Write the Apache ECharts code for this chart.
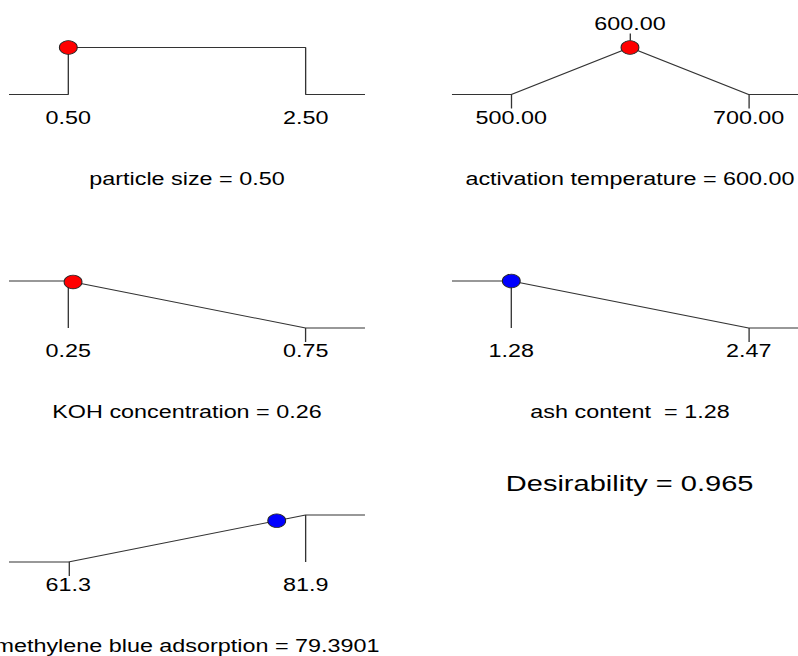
<!DOCTYPE html>
<html>
<head>
<meta charset="utf-8">
<script src="https://cdn.jsdelivr.net/npm/echarts@6/dist/echarts.min.js"></script>
<style>
  html, body { margin: 0; padding: 0; background: #fff; overflow: hidden; }
  #wrap { width: 798px; height: 656px; overflow: hidden; }
  /* the ramp sheet is drawn narrow and widened horizontally */
  #chart { width: 604.5px; height: 656px; transform: scaleX(1.32); transform-origin: 0 0; }
</style>
</head>
<body>
<div id="wrap"><div id="chart"></div></div>
<script>
// Optimisation ramps: one panel per factor / response
const panelNames = ['particle size', 'activation temperature', 'KOH concentration', 'ash content ', 'methylene blue adsorption'];
const panelKinds = ['factor', 'factor', 'factor', 'response', 'response'];
const goals = ['range', 'target', 'minimize', 'minimize', 'maximize'];
const lowLimits = [0.50, 500.00, 0.25, 1.28, 61.3];
const highLimits = [2.50, 700.00, 0.75, 2.47, 81.9];
const targetValues = [null, 600.00, null, null, null];
const currentValues = [0.50, 600.00, 0.26, 1.28, 79.3901];
const limitDecimals = [2, 2, 2, 2, 1];
const valueDecimals = [2, 2, 2, 2, 4];
const overallDesirability = 0.965;

// panel placement (col, row)
const panelCells = [[0, 0], [1, 0], [0, 1], [1, 1], [0, 2]];
const colLeft = [6.8, 342.4];
const rowTop = [47.5, 281, 515];
const gridW = 269.7, gridH = 47;
const FONT = "'Liberation Sans', Arial, Helvetica, sans-serif";
const LABEL_SIZE = 17.7;
const dotColors = { factor: '#ff0000', response: '#0000ff' };

function desirability(i, x) {
  const lo = lowLimits[i], hi = highLimits[i];
  switch (goals[i]) {
    case 'range': return (x >= lo && x <= hi) ? 1 : 0;
    case 'target': {
      const t = targetValues[i];
      if (x <= lo || x >= hi) return 0;
      return x <= t ? (x - lo) / (t - lo) : (hi - x) / (hi - t);
    }
    case 'minimize':
      if (x <= lo) return 1;
      if (x >= hi) return 0;
      return (hi - x) / (hi - lo);
    case 'maximize':
      if (x <= lo) return 0;
      if (x >= hi) return 1;
      return (x - lo) / (hi - lo);
  }
}

function rampPoints(i, xmin, xmax) {
  const lo = lowLimits[i], hi = highLimits[i];
  switch (goals[i]) {
    case 'range': return [[xmin, 0], [lo, 0], [lo, 1], [hi, 1], [hi, 0], [xmax, 0]];
    case 'target': return [[xmin, 0], [lo, 0], [targetValues[i], 1], [hi, 0], [xmax, 0]];
    case 'minimize': return [[xmin, 1], [lo, 1], [hi, 0], [xmax, 0]];
    case 'maximize': return [[xmin, 0], [lo, 0], [hi, 1], [xmax, 1]];
  }
}

// limits that sit at full desirability get a drop line to the base
function dropLines(i) {
  const lo = lowLimits[i], hi = highLimits[i];
  if (goals[i] === 'minimize') return [[lo, 1], [lo, 0]];
  if (goals[i] === 'maximize') return [[hi, 1], [hi, 0]];
  return null;
}

// limits that sit at zero desirability get a tick below the base
function baseTicks(i) {
  const lo = lowLimits[i], hi = highLimits[i];
  if (goals[i] === 'target') return [lo, hi];
  if (goals[i] === 'minimize') return [hi];
  if (goals[i] === 'maximize') return [lo];
  return [];
}

const grids = [], xAxes = [], yAxes = [], series = [];
panelNames.forEach((name, i) => {
  const lo = lowLimits[i], hi = highLimits[i];
  const pad = (hi - lo) * 0.25;
  const xmin = lo - pad, xmax = hi + pad;
  const [c, r] = panelCells[i];
  grids.push({ left: colLeft[c], top: rowTop[r], width: gridW, height: gridH, containLabel: false, outerBoundsMode: 'none' });
  const ticks = baseTicks(i);
  const titleText = name + ' = ' + currentValues[i].toFixed(valueDecimals[i]);
  xAxes.push({
    gridIndex: i, type: 'value', min: xmin, max: xmax, position: 'bottom',
    axisLine: { show: false }, splitLine: { show: false },
    axisTick: { show: ticks.length > 0, customValues: ticks, length: 14, lineStyle: { color: '#333', width: 1 } },
    axisLabel: {
      customValues: [lo, hi], margin: 14, fontSize: LABEL_SIZE, fontFamily: FONT, color: '#000',
      formatter: v => Number(v).toFixed(limitDecimals[i])
    },
    name: titleText, nameLocation: 'middle', nameGap: 75,
    nameTextStyle: { fontSize: LABEL_SIZE, fontFamily: FONT, color: '#000' }
  });
  yAxes.push({ gridIndex: i, type: 'value', min: 0, max: 1, show: false });
  const yIdx = yAxes.length - 1;
  const xIdx = xAxes.length - 1;

  series.push({
    type: 'line', xAxisIndex: xIdx, yAxisIndex: yIdx, data: rampPoints(i, xmin, xmax),
    symbol: 'none', silent: true, clip: false, animation: false,
    lineStyle: { color: '#333', width: 1 }
  });
  const drop = dropLines(i);
  if (drop) {
    series.push({
      type: 'line', xAxisIndex: xIdx, yAxisIndex: yIdx, data: drop,
      symbol: 'none', silent: true, clip: false, animation: false,
      lineStyle: { color: '#333', width: 1 }
    });
  }
  if (goals[i] === 'target') {
    // target marker above the peak
    xAxes.push({
      gridIndex: i, type: 'value', min: xmin, max: xmax, position: 'top', offset: 7,
      axisLine: { show: false }, splitLine: { show: false },
      axisTick: { show: true, customValues: [targetValues[i]], length: 7, lineStyle: { color: '#333', width: 1 } },
      axisLabel: {
        customValues: [targetValues[i]], margin: 8, fontSize: LABEL_SIZE, fontFamily: FONT, color: '#000',
        formatter: v => Number(v).toFixed(limitDecimals[i])
      }
    });
  }
  series.push({
    type: 'scatter', xAxisIndex: xIdx, yAxisIndex: yIdx, z: 5, animation: false,
    data: [[currentValues[i], desirability(i, currentValues[i])]],
    symbol: 'circle', symbolSize: 13.5,
    itemStyle: { color: dotColors[panelKinds[i]], borderColor: '#222', borderWidth: 0.8, opacity: 1 }
  });
});

const chart = echarts.init(document.getElementById('chart'), null, { renderer: 'svg' });
chart.setOption({
  backgroundColor: '#fff',
  animation: false,
  grid: grids,
  xAxis: xAxes,
  yAxis: yAxes,
  series: series,
  graphic: [{
    type: 'text', x: 477, y: 483, silent: true,
    style: {
      text: 'Desirability = ' + overallDesirability.toFixed(3),
      fontSize: 22, fontFamily: FONT, fill: '#000', align: 'center', verticalAlign: 'middle'
    }
  }]
});
</script>
</body>
</html>
